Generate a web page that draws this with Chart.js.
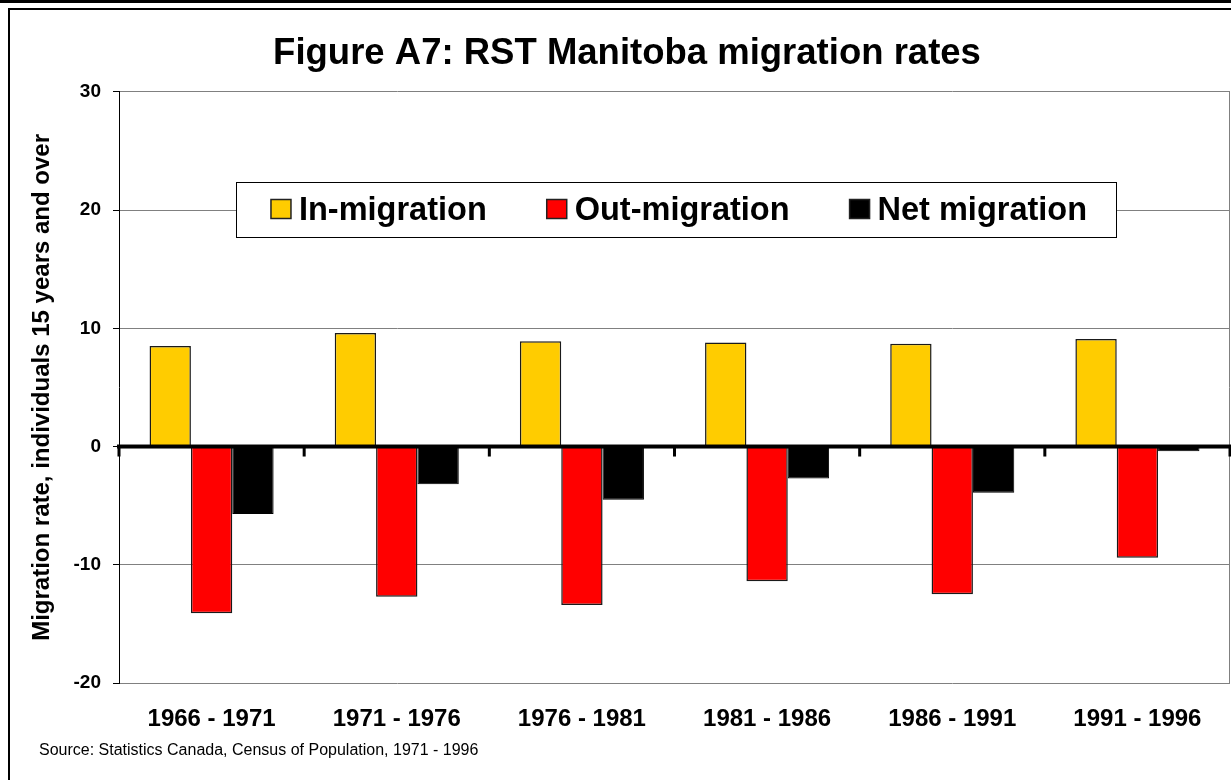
<!DOCTYPE html>
<html>
<head>
<meta charset="utf-8">
<script src="https://cdn.jsdelivr.net/npm/chart.js@4"></script>
<style>
  body { margin: 0; background: #fff; overflow: hidden; }
  #top { position: absolute; left: 0; top: 0; width: 1231px; height: 3px; background: #000; }
  #frame { position: absolute; left: 8px; top: 8px; width: 1240px; height: 790px; border: 2px solid #000; }
  #wrap { position: absolute; left: 0; top: 0; width: 1231px; height: 780px; }
</style>
</head>
<body>
<div id="top"></div>
<div id="frame"></div>
<div id="wrap"><canvas id="chart-bar"></canvas></div>
<script>
// periods and rates
const periods = ["1966 - 1971", "1971 - 1976", "1976 - 1981", "1981 - 1986", "1986 - 1991", "1991 - 1996"];
const inMigration = [8.5, 9.6, 8.9, 8.8, 8.7, 9.1];
const outMigration = [-14.1, -12.7, -13.4, -11.4, -12.5, -9.4];
const netMigration = [-5.7, -3.2, -4.5, -2.7, -3.9, -0.4];
const yTicks = [-20, -10, 0, 10, 20, 30];
const sourceNote = "Source: Statistics Canada, Census of Population, 1971 - 1996";

// legend box drawn inside the plot, zero axis with tick marks, source line
const extras = {
    id: 'extras',
    afterDatasetsDraw(chart) {
        const ctx = chart.ctx;
        const area = chart.chartArea;
        const y0 = chart.scales.y.getPixelForValue(0);
        ctx.save();
        // right edge of plot
        ctx.strokeStyle = '#808080';
        ctx.lineWidth = 1;
        ctx.beginPath();
        ctx.moveTo(area.right - 0.5, area.top);
        ctx.lineTo(area.right - 0.5, area.bottom);
        ctx.stroke();
        // zero line
        ctx.fillStyle = '#000';
        ctx.fillRect(area.left - 2, y0 - 2, area.right - area.left + 4, 4);
        let n = periods.length;
        let w = (area.right - area.left) / n;
        for (let i = 0; i <= n; i++) {
            let x = area.left + i * w;
            ctx.fillRect(x - 1.5, y0, 3, 10);
        }
        ctx.restore();
    },
    afterDraw(chart) {
        const ctx = chart.ctx;
        ctx.save();
        // legend
        ctx.font = 'bold 32.5px "Liberation Sans", Arial, sans-serif';
        const sw = 20, gapIn = 8, gapOut = 60;
        let items = chart.data.datasets.map(d => ({ label: d.label, color: d.backgroundColor, w: ctx.measureText(d.label).width }));
        let total = 0;
        items.forEach((it, i) => { total += sw + gapIn + it.w + (i < items.length - 1 ? gapOut : 0); });
        const boxL = 236, boxR = 1116, boxT = 182, boxB = 237;
        ctx.fillStyle = '#fff';
        ctx.fillRect(boxL, boxT, boxR - boxL, boxB - boxT);
        ctx.strokeStyle = '#000';
        ctx.lineWidth = 1;
        ctx.strokeRect(boxL + 0.5, boxT + 0.5, boxR - boxL, boxB - boxT);
        let x = (boxL + boxR) / 2 - total / 2 + 3;
        let cy = (boxT + boxB) / 2;
        ctx.textBaseline = 'middle';
        items.forEach(it => {
            ctx.fillStyle = it.color;
            ctx.fillRect(x, cy - 10, sw, 19);
            ctx.strokeStyle = '#222';
            ctx.lineWidth = 1.5;
            ctx.strokeRect(x, cy - 10, sw, 19);
            x += sw + gapIn;
            ctx.fillStyle = '#000';
            ctx.fillText(it.label, x, cy + 2);
            x += it.w + gapOut;
        });
        // source
        ctx.font = '16px "Liberation Sans", Arial, sans-serif';
        ctx.fillStyle = '#000';
        ctx.fillText(sourceNote, 39, 751);
        ctx.restore();
    }
};

const ctx = document.getElementById('chart-bar');
const myBarChart = new Chart(ctx, {
    type: 'bar',
    data: {
        labels: periods,
        datasets: [
            { label: 'In-migration', data: inMigration, backgroundColor: '#FFCC00', borderColor: '#1a1a1a', borderWidth: 1.5 },
            { label: 'Out-migration', data: outMigration, backgroundColor: '#FF0000', borderColor: '#1a1a1a', borderWidth: 1.5 },
            { label: 'Net migration', data: netMigration, backgroundColor: '#000000', borderColor: '#000000', borderWidth: 1 }
        ]
    },
    options: {
        responsive: true,
        maintainAspectRatio: false,
        animation: false,
        layout: { padding: { left: 24, right: 1, top: 0, bottom: 0 } },
        datasets: { bar: { categoryPercentage: 0.67, barPercentage: 1.0 } },
        plugins: {
            legend: { display: false },
            tooltip: { enabled: false },
            title: {
                display: true,
                text: 'Figure A7: RST Manitoba migration rates',
                color: '#000',
                font: { family: '"Liberation Sans", Arial, sans-serif', size: 36.5, weight: 'bold' },
                padding: { top: 32, bottom: 16 }
            }
        },
        scales: {
            x: {
                grid: { display: false, drawTicks: false },
                border: { display: false },
                ticks: {
                    color: '#000',
                    padding: 22,
                    maxRotation: 0,
                    font: { family: '"Liberation Sans", Arial, sans-serif', size: 24, weight: 'bold' }
                },
                afterFit(scale) { scale.height = 97; }
            },
            y: {
                min: -20,
                max: 30,
                afterBuildTicks(scale) { scale.ticks = yTicks.map(v => ({ value: v })); },
                grid: {
                    color: '#808080',
                    lineWidth: 1,
                    tickColor: '#000',
                    tickLength: 6
                },
                border: { display: true, color: '#000', width: 1 },
                ticks: {
                    color: '#000',
                    padding: 12,
                    font: { family: '"Liberation Sans", Arial, sans-serif', size: 19, weight: 'bold' }
                },
                title: {
                    display: true,
                    text: 'Migration rate, individuals 15 years and over',
                    color: '#000',
                    padding: { top: 4, bottom: 0 },
                    font: { family: '"Liberation Sans", Arial, sans-serif', size: 24, weight: 'bold' }
                },
                afterFit(scale) { scale.width = 95; }
            }
        }
    },
    plugins: [extras]
});
</script>
</body>
</html>
